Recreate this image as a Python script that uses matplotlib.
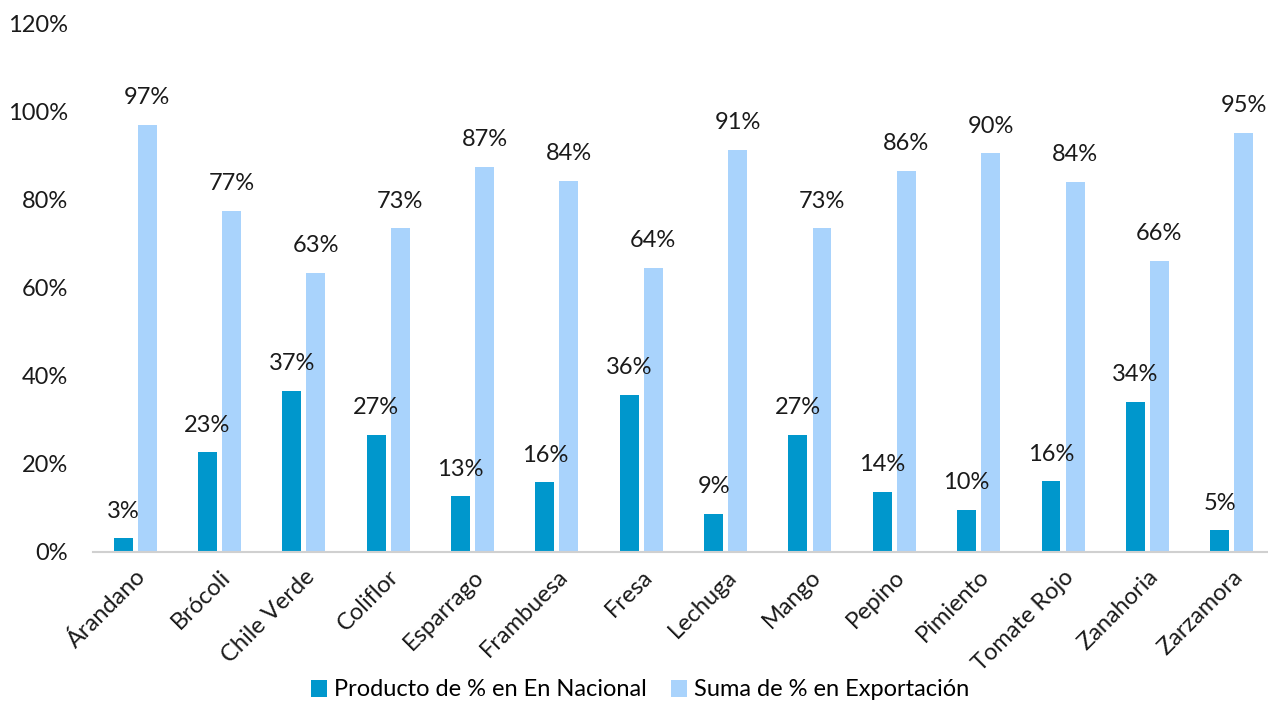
import matplotlib
matplotlib.use("Agg")
import matplotlib.pyplot as plt
import numpy as np

categories = ["Árandano", "Brócoli", "Chile Verde", "Coliflor", "Esparrago", "Frambuesa",
              "Fresa", "Lechuga", "Mango", "Pepino", "Pimiento", "Tomate Rojo",
              "Zanahoria", "Zarzamora"]
nacional = [3.1, 22.6, 36.6, 26.6, 12.6, 15.8, 35.6, 8.7, 26.6, 13.6, 9.6, 16.0, 34.0, 4.9]
exportacion = [96.9, 77.4, 63.4, 73.4, 87.4, 84.2, 64.4, 91.3, 73.4, 86.4, 90.4, 84.0, 66.0, 95.1]
series_names = ["Producto de % en En Nacional", "Suma de % en Exportación"]
yticks = [0, 20, 40, 60, 80, 100, 120]

plt.rcParams['font.family'] = ['Lato', 'DejaVu Sans']
FS = 17

fig = plt.figure(figsize=(12.68, 7.02), dpi=100)
ax = fig.add_axes([93/1268, 150/702, 1 - 93/1268, (552-23)/702])

x = np.arange(len(categories))
w = 0.225
off = 0.1425
c1, c2 = '#0097cc', '#a9d3fc'
b1 = ax.bar(x - off, nacional, w, color=c1, label=series_names[0])
b2 = ax.bar(x + off, exportacion, w, color=c2, label=series_names[1])

for rects, vals in ((b1, nacional), (b2, exportacion)):
    for r, v in zip(rects, vals):
        ax.annotate(f"{round(v):d}%", (r.get_x() + r.get_width()/2, v),
                    xytext=(0, 12), textcoords='offset points',
                    ha='center', va='bottom', fontsize=FS, color='#1a1a1a')

ax.set_xlim(-0.5, -0.5 + 1175/84.35)
ax.set_ylim(0, 120)
ax.set_yticks(yticks)
ax.set_yticklabels([f"{t}%" for t in yticks], fontsize=FS, color='#1a1a1a')
ax.set_xticks(x)
ax.set_xticklabels(categories, rotation=45, ha='right', rotation_mode='anchor',
                   fontsize=FS, color='#1a1a1a')
ax.tick_params(axis='both', length=0)
ax.tick_params(axis='y', pad=18)
ax.tick_params(axis='x', pad=10)
for s in ['top', 'right', 'left']:
    ax.spines[s].set_visible(False)
ax.spines['bottom'].set_color('#d0d0d0')
ax.spines['bottom'].set_linewidth(1.5)

fig.legend(handles=[b1, b2], labels=series_names, loc='center',
           bbox_to_anchor=(640/1268, 1 - 690/702), ncol=2, frameon=False,
           fontsize=FS, handlelength=0.7, handleheight=0.7, handletextpad=0.3,
           columnspacing=1.0, borderaxespad=0)

fig.savefig("out.png", dpi=100, facecolor='white')
